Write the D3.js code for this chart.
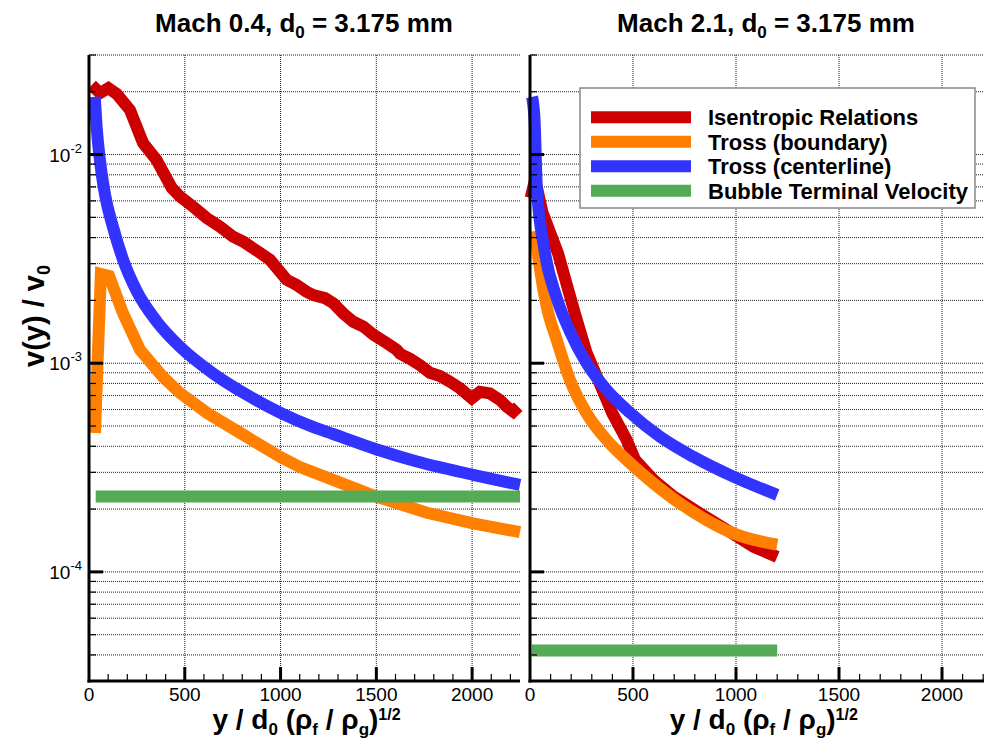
<!DOCTYPE html>
<html>
<head>
<meta charset="utf-8">
<script src="https://cdn.jsdelivr.net/npm/d3@7"></script>
<style>
  body { margin: 0; background: #fff; }
  svg { display: block; }
</style>
</head>
<body>
<div id="chart"></div>
<script>
'use strict'

// ---------------- data ----------------
const seriesNames = ["Isentropic Relations", "Tross (boundary)", "Tross (centerline)", "Bubble Terminal Velocity"]
const seriesColors = ["#cc0000", "#ff8000", "#3333ff", "#55aa55"]

const xTickLabels = [0, 500, 1000, 1500, 2000]
const yMajorTicks = [1e-4, 1e-3, 1e-2]
const yExponents = ["-4", "-3", "-2"]

// Mach 0.4
const isenLow = [[14,0.0215],[57,0.0197],[101,0.0208],[145,0.0195],[214,0.01635],[282,0.01136],[353,0.00941],[432,0.00692],[475,0.00629],[543,0.00563],[614,0.00497],[684,0.00451],[752,0.00404],[804,0.00383],[893,0.00338],[945,0.00313],[1032,0.00251],[1084,0.00237],[1136,0.00220],[1171,0.00212],[1232,0.00205],[1275,0.00194],[1328,0.00173],[1380,0.00158],[1432,0.00150],[1484,0.00137],[1554,0.00125],[1606,0.00116],[1624,0.00111],[1676,0.00105],[1728,0.00098],[1780,0.00090],[1832,0.000868],[1885,0.000815],[1937,0.000758],[1998,0.000679],[2041,0.00073],[2093,0.000717],[2146,0.000666],[2181,0.000619],[2215,0.000586],[2241,0.000619]]
const bndLow = [[31,4.63e-4],[62,2.68e-3],[105,2.62e-3],[177,1.74e-3],[266,1.16e-3],[386,8.6e-4],[475,7.2e-4],[616,5.78e-4],[825,4.43e-4],[997,3.56e-4],[1101,3.18e-4],[1274,2.76e-4],[1503,2.29e-4],[1764,1.92e-4],[2005,1.71e-4],[2250,1.55e-4]]
const ctrLow = [[30,0.0189],[40,0.0135],[57,9.42e-3],[84,6.4e-3],[125,4.50e-3],[177,3.15e-3],[251,2.2e-3],[355,1.58e-3],[475,1.20e-3],[647,8.95e-4],[825,7.05e-4],[997,5.8e-4],[1169,4.95e-4],[1274,4.58e-4],[1503,3.86e-4],[1712,3.38e-4],[2005,2.92e-4],[2250,2.61e-4]]
const bubbleLow = [[35,2.3e-4],[2250,2.3e-4]]

// Mach 2.1
const isenHigh = [[3,6.2e-3],[25,7.6e-3],[60,5.3e-3],[136,3.36e-3],[218,1.73e-3],[275,1.12e-3],[345,7.72e-4],[400,5.75e-4],[469,4.29e-4],[510,3.44e-4],[599,2.76e-4],[696,2.30e-4],[825,1.91e-4],[955,1.59e-4],[1084,1.32e-4],[1200,1.18e-4]]
const bndHigh = [[24,4.3e-3],[49,2.80e-3],[81,1.87e-3],[130,1.29e-3],[194,8.31e-4],[275,5.75e-4],[372,4.29e-4],[469,3.44e-4],[599,2.66e-4],[728,2.13e-4],[858,1.77e-4],[987,1.53e-4],[1200,1.35e-4]]
const ctrHigh = [[10,0.0189],[22,0.0147],[33,7.0e-3],[70,3.5e-3],[130,2.05e-3],[194,1.42e-3],[275,1.0e-3],[372,7.45e-4],[485,5.8e-4],[631,4.45e-4],[793,3.56e-4],[987,2.86e-4],[1200,2.34e-4]]
const bubbleHigh = [[8,4.2e-5],[1200,4.2e-5]]

////////////////////////////////////
//////////// svg setup /////////////
////////////////////////////////////

const svgWidth = 984, svgHeight = 742
const font_family = '"Liberation Sans", Arial, Helvetica, sans-serif'
const plotTop = 55, plotBottom = 681

const svg = d3.select('#chart').append('svg')
    .attr('width', svgWidth)
    .attr('height', svgHeight)
    .style('font-family', font_family)

const y = d3.scaleLog().domain([3e-5, 3e-2]).range([plotBottom, plotTop])

// smooth: which series get a monotone curve (the rest stay raw polylines)
const panels = [
    { mach: "0.4", left: 89, right: 520, titleX: 304, series: [isenLow, bndLow, ctrLow, bubbleLow], smooth: [false, false, true, false] },
    { mach: "2.1", left: 530, right: 993.5, titleX: 766, series: [isenHigh, bndHigh, ctrHigh, bubbleHigh], smooth: [false, true, true, false] }
]

panels.forEach((p, pi) => {
    const x = d3.scaleLinear().domain([0, 2250]).range([p.left, p.right])
    const g = svg.append('g')

    // grid
    g.selectAll('.hgrid')
        .data(y.ticks())
        .join('line')
        .attr('x1', p.left).attr('x2', p.right)
        .attr('y1', d => y(d)).attr('y2', d => y(d))
        .attr('stroke', '#222')
        .attr('stroke-width', 1)
        .attr('stroke-dasharray', '1,1')

    g.selectAll('.vgrid')
        .data(xTickLabels.filter(d => d > 0))
        .join('line')
        .attr('x1', d => x(d)).attr('x2', d => x(d))
        .attr('y1', plotTop).attr('y2', plotBottom)
        .attr('stroke', '#222')
        .attr('stroke-width', 1)
        .attr('stroke-dasharray', '1,1')

    // lines
    const straight = d3.line().x(d => x(d[0])).y(d => y(d[1]))
    const smooth = d3.line().curve(d3.curveMonotoneX).x(d => x(d[0])).y(d => y(d[1]))
    g.selectAll('.series')
        .data(p.series)
        .join('path')
        .attr('d', (d, i) => p.smooth[i] ? smooth(d) : straight(d))
        .attr('fill', 'none')
        .attr('stroke', (d, i) => seriesColors[i])
        .attr('stroke-width', 12)
        .attr('stroke-linejoin', 'miter')
        .attr('stroke-linecap', 'butt')

    // axes
    g.append('line')
        .attr('x1', p.left).attr('x2', p.left)
        .attr('y1', plotTop).attr('y2', plotBottom + 1.5)
        .attr('stroke', '#000').attr('stroke-width', 3)
    g.append('line')
        .attr('x1', p.left - 1.5).attr('x2', p.right)
        .attr('y1', plotBottom).attr('y2', plotBottom)
        .attr('stroke', '#000').attr('stroke-width', 3)

    // y ticks
    g.selectAll('.ytick')
        .data(y.ticks())
        .join('line')
        .attr('x1', p.left)
        .attr('x2', d => p.left + (yMajorTicks.includes(d) ? 14 : 7))
        .attr('y1', d => y(d)).attr('y2', d => y(d))
        .attr('stroke', '#000')
        .attr('stroke-width', d => yMajorTicks.includes(d) ? 3 : 1.2)

    // x ticks
    g.selectAll('.xtick')
        .data(d3.range(100, 2250, 100))
        .join('line')
        .attr('x1', d => x(d)).attr('x2', d => x(d))
        .attr('y1', plotBottom)
        .attr('y2', d => plotBottom - (d % 500 === 0 ? 14 : 7))
        .attr('stroke', '#000')
        .attr('stroke-width', d => d % 500 === 0 ? 3 : 1.2)

    g.selectAll('.xlabel')
        .data(xTickLabels)
        .join('text')
        .attr('x', d => x(d))
        .attr('y', 701)
        .attr('text-anchor', 'middle')
        .style('font-size', '19px')
        .text(d => d)

    // y tick labels (left panel only)
    if (pi === 0) {
        const yl = g.selectAll('.ylabel')
            .data(yMajorTicks)
            .join('text')
            .attr('x', p.left - 7)
            .attr('y', d => y(d) + 7)
            .attr('text-anchor', 'end')
            .style('font-size', '19px')
        yl.append('tspan').text('10')
        yl.append('tspan')
            .attr('dy', -9)
            .style('font-size', '13px')
            .text((d, i) => yExponents[i])

        const ylab = g.append('text')
            .attr('transform', 'translate(44,316) rotate(-90)')
            .attr('text-anchor', 'middle')
            .style('font-size', '29px')
            .style('font-weight', '700')
        ylab.append('tspan').text('v(y) / v')
        ylab.append('tspan').attr('dy', 6).style('font-size', '18px').text('0')
    }

    // title
    const t = svg.append('text')
        .attr('x', p.titleX)
        .attr('y', 32)
        .attr('text-anchor', 'middle')
        .style('font-size', '26px')
        .style('font-weight', '700')
    t.append('tspan').text(`Mach ${p.mach}, d`)
    t.append('tspan').attr('dy', 6).style('font-size', '17px').text('0')
    t.append('tspan').attr('dy', -6).text(' = 3.175 mm')

    // x axis label
    const xl = svg.append('text')
        .attr('x', (p.left + Math.min(p.right, svgWidth + 10)) / 2 + 2)
        .attr('y', 729)
        .attr('text-anchor', 'middle')
        .style('font-size', '28px')
        .style('font-weight', '700')
    xl.append('tspan').text('y / d')
    xl.append('tspan').attr('dy', 6).style('font-size', '17px').text('0')
    xl.append('tspan').attr('dy', -6).text(' (ρ')
    xl.append('tspan').attr('dy', 6).style('font-size', '17px').text('f')
    xl.append('tspan').attr('dy', -6).text(' / ρ')
    xl.append('tspan').attr('dy', 6).style('font-size', '17px').text('g')
    xl.append('tspan').attr('dy', -6).text(')')
    xl.append('tspan').attr('dy', -9).style('font-size', '16px').text('1/2')
})

////////////////////////////////////
//////////// legend ////////////////
////////////////////////////////////

const legend = svg.append('g')
legend.append('rect')
    .attr('x', 580).attr('y', 88)
    .attr('width', 395).attr('height', 120)
    .attr('fill', '#fff')
    .attr('stroke', '#888')
    .attr('stroke-width', 1.5)

const items = legend.selectAll('.item')
    .data(seriesNames)
    .join('g')
    .attr('transform', (d, i) => `translate(0, ${117.3 + i * 24.5})`)

items.append('line')
    .attr('x1', 591).attr('x2', 691)
    .attr('stroke', (d, i) => seriesColors[i])
    .attr('stroke-width', 12)

items.append('text')
    .attr('x', 708)
    .attr('y', 8)
    .style('font-size', '22px')
    .style('font-weight', '700')
    .text(d => d)
</script>
</body>
</html>
